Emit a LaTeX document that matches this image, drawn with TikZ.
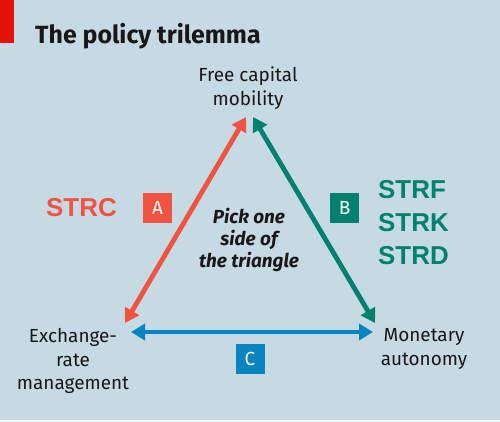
\documentclass[tikz,border=0pt]{standalone}
\usepackage{fontspec}
\setmainfont{Fira Sans}
\newfontfamily\arialfont{Liberation Sans}
\usetikzlibrary{arrows.meta}
\definecolor{bgblue}{HTML}{C6DAE4}
\definecolor{tred}{HTML}{F05340}
\definecolor{tgreen}{HTML}{00806F}
\definecolor{tblue}{HTML}{0A84C1}
\definecolor{barred}{HTML}{E3120B}
\definecolor{ink}{HTML}{1A1718}
\tikzset{
  bothside/.style={line width=4.8bp, {Triangle[length=14bp,width=16bp]}-{Triangle[length=14bp,width=16bp]}},
  letterbox/.style={minimum width=29bp, minimum height=30bp, inner sep=0pt, text=white, font=\fontsize{19}{19}\selectfont},
  vertex/.style={align=center, text=ink, font=\fontsize{19}{24}\selectfont, inner sep=0pt},
  codes/.style={font=\arialfont\bfseries\fontsize{26}{33}\selectfont, align=left, inner sep=0pt},
}
\begin{document}
\begin{tikzpicture}[x=1bp,y=-1bp]
\useasboundingbox (0,0) rectangle (500,421);
\fill[bgblue] (0,0) rectangle (500,420);
\fill[white] (0,420) rectangle (500,421);
\fill[barred] (0,0) rectangle (14,43);
\node[anchor=base west, inner sep=0pt, text=ink, font=\bfseries\fontsize{25}{25}\selectfont] (title) at (35,43) {The policy trilemma};

\node[vertex] (free) at (248,88) {Free capital\\mobility};
\node[vertex] (exch) at (73,361) {Exchange-\\rate\\management};
\node[vertex] (mon) at (424,349) {Monetary\\autonomy};

\coordinate (rb) at (125,323);
\coordinate (rt) at (246,117);
\coordinate (gt) at (253,117);
\coordinate (gb) at (375,323);
\coordinate (bl) at (131,332);
\coordinate (br) at (373,332);

\draw[bothside, tred] (rb) -- (rt);
\draw[bothside, tgreen] (gt) -- (gb);
\draw[bothside, tblue] (bl) -- (br);

\node[letterbox, fill=tred] (A) at (157.5,208) {A};
\node[letterbox, fill=tgreen] (B) at (344.5,208) {B};
\node[letterbox, fill=tblue] (C) at (250,358.5) {C};

\node[codes, text=tred, anchor=base west] (strc) at (46,216) {STRC};
\node[codes, text=tgreen, anchor=north west] (strf) at (378,180) {STRF\\STRK\\STRD};

\node[align=center, text=ink, inner sep=0pt, font=\bfseries\itshape\fontsize{19}{22}\selectfont] (pick) at (249,240) {Pick one\\side of\\the triangle};
\end{tikzpicture}
\end{document}
